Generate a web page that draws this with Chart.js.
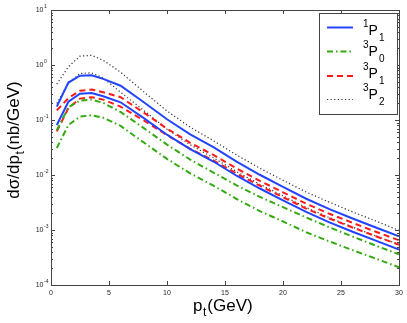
<!DOCTYPE html>
<html>
<head>
<meta charset="utf-8">
<script src="https://cdn.jsdelivr.net/npm/chart.js@4.4.0/dist/chart.umd.min.js"></script>
<style>
html, body { margin: 0; padding: 0; background: #fff; }
#wrap { width: 407px; height: 323px; }
</style>
</head>
<body>
<div id="wrap"><canvas id="chart" width="407" height="323"></canvas></div>
<script>
// ----- DATA ----- //
// ---------------- //

const pt = [0.5, 1.5, 2.5, 3.5, 4.5, 6, 8, 10, 12, 14, 16, 18, 20, 22, 24, 26, 28, 30];

// 1P1 (two curves)
const p11_hi = [0.175, 0.48, 0.64, 0.65, 0.56, 0.42, 0.21, 0.103, 0.055, 0.032, 0.0175, 0.0101, 0.0061, 0.0037, 0.0024, 0.00162, 0.00111, 0.00077];
const p11_lo = [0.081, 0.215, 0.30, 0.31, 0.27, 0.21, 0.108, 0.054, 0.0295, 0.0176, 0.0097, 0.00568, 0.00347, 0.00213, 0.00138, 0.00093, 0.00064, 0.00044];
// 3P0
const p30_hi = [0.065, 0.17, 0.225, 0.235, 0.205, 0.14, 0.0712, 0.0357, 0.019, 0.0111, 0.0065, 0.0040, 0.0026, 0.00169, 0.00112, 0.00076, 0.00052, 0.00036];
const p30_lo = [0.031, 0.081, 0.115, 0.122, 0.11, 0.078, 0.039, 0.0196, 0.0107, 0.0064, 0.00366, 0.00221, 0.00143, 0.00091, 0.00062, 0.00043, 0.000302, 0.00021];
// 3P1
const p31_hi = [0.15, 0.25, 0.34, 0.36, 0.32, 0.26, 0.136, 0.0696, 0.0385, 0.0232, 0.0131, 0.00784, 0.00485, 0.00301, 0.00197, 0.00135, 0.00093, 0.00065];
const p31_lo = [0.062, 0.165, 0.245, 0.26, 0.235, 0.175, 0.098, 0.053, 0.030, 0.0184, 0.0106, 0.0064, 0.00394, 0.00245, 0.00162, 0.00111, 0.00077, 0.00054];
// 3P2
const p32_hi = [0.45, 0.93, 1.45, 1.5, 1.22, 0.74, 0.325, 0.146, 0.074, 0.042, 0.0231, 0.0133, 0.0080, 0.0049, 0.0032, 0.00213, 0.00146, 0.00098];
const p32_lo = [0.2, 0.47, 0.70, 0.72, 0.58, 0.32, 0.149, 0.068, 0.0355, 0.0206, 0.0115, 0.0068, 0.0042, 0.00256, 0.00168, 0.00113, 0.00078, 0.000545];

const xTicks = [0, 5, 10, 15, 20, 25, 30];
const yTicks = [1e-4, 1e-3, 1e-2, 1e-1, 1, 10];
const yExponents = ['-4', '-3', '-2', '-1', '0', '1'];

// legend: superscript, subscript around "P"
const legendSup = ['1', '3', '3', '3'];
const legendSub = ['1', '0', '1', '2'];


// ----- STYLES ----- //
// ------------------ //

const FONT = '"Liberation Sans", Arial, Helvetica, sans-serif';
const BLUE = '#2244ff';
const GREEN = '#33aa11';
const RED = '#ff1a1a';
const GREY = '#333333';

const styles = [
  { color: BLUE,  width: 2,   dash: [] },
  { color: GREEN, width: 2,   dash: [6, 3, 1.5, 3] },
  { color: RED,   width: 2,   dash: [6, 4] },
  { color: GREY,  width: 1.2, dash: [1.2, 2.4] }
];

function series(data, s, label) {
  return {
    label: label,
    data: pt.map((x, i) => ({ x: x, y: data[i] })),
    borderColor: s.color,
    borderWidth: s.width,
    borderDash: s.dash,
    pointRadius: 0,
    tension: 0,
    fill: false
  };
}


// ----- DECORATIONS ----- //
// ----------------------- //

const decor = {
  id: 'decor',
  afterDraw(chart) {
    const ctx = chart.ctx;
    const a = chart.chartArea;
    const x = chart.scales.x;
    const y = chart.scales.y;
    ctx.save();

    // frame
    ctx.strokeStyle = '#444';
    ctx.lineWidth = 1;
    ctx.strokeRect(Math.round(a.left) + 0.5, Math.round(a.top) + 0.5,
                   Math.round(a.right - a.left), Math.round(a.bottom - a.top));

    // x ticks, bottom and top
    ctx.beginPath();
    for (const v of xTicks) {
      const px = Math.round(x.getPixelForValue(v)) + 0.5;
      ctx.moveTo(px, a.bottom); ctx.lineTo(px, a.bottom - 4);
      ctx.moveTo(px, a.top); ctx.lineTo(px, a.top + 4);
    }
    // y ticks, major and minor, left and right
    for (let k = 0; k < yTicks.length; k++) {
      const base = yTicks[k];
      const py = Math.round(y.getPixelForValue(base)) + 0.5;
      ctx.moveTo(a.left, py); ctx.lineTo(a.left + 4, py);
      ctx.moveTo(a.right, py); ctx.lineTo(a.right - 4, py);
      if (k < yTicks.length - 1) {
        for (let m = 2; m <= 9; m++) {
          const pm = Math.round(y.getPixelForValue(base * m)) + 0.5;
          ctx.moveTo(a.left, pm); ctx.lineTo(a.left + 2, pm);
          ctx.moveTo(a.right, pm); ctx.lineTo(a.right - 2, pm);
        }
      }
    }
    ctx.stroke();

    // y tick labels 10^n
    ctx.fillStyle = '#222';
    ctx.textBaseline = 'middle';
    for (let k = 0; k < yTicks.length; k++) {
      const py = y.getPixelForValue(yTicks[k]);
      ctx.font = '7px ' + FONT;
      ctx.textAlign = 'right';
      ctx.fillText('10', a.left - 7.5, py + 0.5);
      ctx.font = '5px ' + FONT;
      ctx.textAlign = 'left';
      ctx.fillText(yExponents[k], a.left - 7, py - 3);
    }

    // x title p_t(GeV)
    ctx.textBaseline = 'alphabetic';
    ctx.textAlign = 'left';
    ctx.fillStyle = '#000';
    let tx = 193, ty = 311;
    ctx.font = '17px ' + FONT;
    ctx.fillText('p', tx, ty);
    tx += ctx.measureText('p').width;
    ctx.font = '12px ' + FONT;
    ctx.fillText('t', tx + 0.5, ty + 5);
    tx += ctx.measureText('t').width + 1.5;
    ctx.font = '17px ' + FONT;
    ctx.fillText('(GeV)', tx, ty);

    // y title dσ/dp_t(nb/GeV)
    ctx.save();
    ctx.translate(19, 140);
    ctx.rotate(-Math.PI / 2);
    ctx.font = '17px ' + FONT;
    const w1 = ctx.measureText('dσ/dp').width;
    const w3 = ctx.measureText('(nb/GeV)').width;
    ctx.font = '12px ' + FONT;
    const w2 = ctx.measureText('t').width + 1.5;
    let sx = -(w1 + w2 + w3) / 2;
    ctx.font = '17px ' + FONT;
    ctx.fillText('dσ/dp', sx, 0);
    sx += w1;
    ctx.font = '12px ' + FONT;
    ctx.fillText('t', sx + 0.5, 5);
    sx += w2;
    ctx.font = '17px ' + FONT;
    ctx.fillText('(nb/GeV)', sx, 0);
    ctx.restore();

    // legend
    const lx = 319.5, ly = 13.5, lw = 78, lh = 101;
    ctx.fillStyle = '#fff';
    ctx.fillRect(lx, ly, lw, lh);
    ctx.strokeStyle = '#444';
    ctx.lineWidth = 1;
    ctx.strokeRect(lx, ly, lw, lh);
    const lineY = [27.5, 51.5, 76, 99.5];
    const textY = [31, 52.5, 74, 95.5];
    for (let i = 0; i < 4; i++) {
      const ds = chart.data.datasets[i * 2];
      ctx.beginPath();
      ctx.strokeStyle = ds.borderColor;
      ctx.lineWidth = ds.borderWidth;
      ctx.setLineDash(ds.borderDash);
      ctx.moveTo(327, lineY[i]);
      ctx.lineTo(353, lineY[i]);
      ctx.stroke();
      ctx.setLineDash([]);
      ctx.fillStyle = '#000';
      ctx.textBaseline = 'middle';
      ctx.font = '10px ' + FONT;
      ctx.fillText(legendSup[i], 363, textY[i] - 7);
      ctx.font = '14px ' + FONT;
      ctx.fillText('P', 368.5, textY[i]);
      ctx.font = '10px ' + FONT;
      ctx.fillText(legendSub[i], 379, textY[i] + 7);
    }

    ctx.restore();
  }
};


// ----- CHART ----- //
// ----------------- //

new Chart(document.getElementById('chart').getContext('2d'), {
  type: 'line',
  data: {
    datasets: [
      series(p11_hi, styles[0], '1P1'),
      series(p11_lo, styles[0], '1P1 low'),
      series(p30_hi, styles[1], '3P0'),
      series(p30_lo, styles[1], '3P0 low'),
      series(p31_hi, styles[2], '3P1'),
      series(p31_lo, styles[2], '3P1 low'),
      series(p32_hi, styles[3], '3P2'),
      series(p32_lo, styles[3], '3P2 low')
    ]
  },
  options: {
    responsive: false,
    animation: false,
    devicePixelRatio: 1,
    layout: { padding: { left: 0, top: 10, right: 8, bottom: 0 } },
    plugins: { legend: { display: false }, tooltip: { enabled: false } },
    scales: {
      x: {
        type: 'linear',
        min: 0,
        max: 30,
        afterBuildTicks: s => { s.ticks = xTicks.map(v => ({ value: v })); },
        afterFit: s => { s.height = 38; },
        grid: { display: false, drawTicks: false },
        border: { display: false },
        ticks: { color: '#222', font: { size: 7, family: FONT }, padding: 4, maxRotation: 0 }
      },
      y: {
        type: 'logarithmic',
        min: 1e-4,
        max: 10,
        afterBuildTicks: s => { s.ticks = yTicks.map(v => ({ value: v })); },
        afterFit: s => { s.width = 51; },
        grid: { display: false, drawTicks: false },
        border: { display: false },
        ticks: { display: false }
      }
    }
  },
  plugins: [decor]
});
</script>
</body>
</html>
